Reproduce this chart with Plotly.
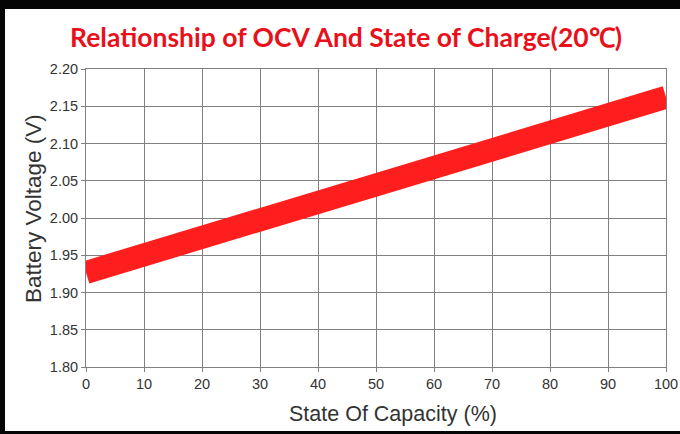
import plotly.graph_objects as go

# data
soc_pct = [0, 100]
ocv_v = [1.927, 2.162]
x_ticks = [0, 10, 20, 30, 40, 50, 60, 70, 80, 90, 100]
y_ticks = [1.80, 1.85, 1.90, 1.95, 2.00, 2.05, 2.10, 2.15, 2.20]

W, H = 680, 434
L, R, T, B = 86, 14, 69, 67
PW, PH = W - L - R, H - T - B

fig = go.Figure()
fig.add_trace(go.Scatter(x=soc_pct, y=ocv_v, mode="lines",
                         line=dict(color="#ff1e1e", width=23), showlegend=False, hoverinfo="skip"))

axis_common = dict(showline=True, linecolor="#808080", linewidth=1, mirror=True,
                   showgrid=True, gridcolor="#808080", gridwidth=1, zeroline=False,
                   ticks="outside", ticklen=4, tickcolor="#808080", automargin=False,
                   tickfont=dict(family="Liberation Sans, Arial", size=14.5, color="#333333"))

fig.update_xaxes(range=[0, 100], tickvals=x_ticks, ticktext=[str(v) for v in x_ticks], **axis_common)
fig.update_yaxes(range=[1.80, 2.20], tickvals=y_ticks, ticktext=[f"{v:.2f}" for v in y_ticks], **axis_common)

def px_x(p):
    return (p - L) / PW

def px_y(p):
    return (H - B - p) / PH

shapes = [
    dict(type="rect", xref="paper", yref="paper", x0=px_x(-5), x1=px_x(W + 5), y0=px_y(9), y1=px_y(-5),
         fillcolor="#050505", line=dict(width=0), layer="above"),
    dict(type="rect", xref="paper", yref="paper", x0=px_x(-5), x1=px_x(5), y0=px_y(H + 5), y1=px_y(-5),
         fillcolor="#050505", line=dict(width=0), layer="above"),
    dict(type="rect", xref="paper", yref="paper", x0=px_x(-5), x1=px_x(W + 5), y0=px_y(H + 5), y1=px_y(431),
         fillcolor="#050505", line=dict(width=0), layer="above"),
]

annotations = [
    dict(text="State Of Capacity (%)", xref="paper", yref="paper", x=px_x(393), y=px_y(414),
         xanchor="center", yanchor="middle", showarrow=False,
         font=dict(family="Liberation Sans, Arial", size=21.5, color="#333333")),
    dict(text="Battery Voltage (V)", xref="paper", yref="paper", x=px_x(33), y=px_y(209),
         xanchor="center", yanchor="middle", showarrow=False, textangle=-90,
         font=dict(family="Liberation Sans, Arial", size=22.5, color="#333333")),
]

fig.update_layout(
    width=W, height=H, autosize=False,
    margin=dict(l=L, r=R, t=T, b=B, pad=0, autoexpand=False),
    paper_bgcolor="white", plot_bgcolor="white",
    title=dict(text="<b>Relationship of OCV And State of Charge(20℃)</b>",
               x=346 / W, xanchor="center", y=1 - 38 / H, yanchor="middle", yref="container",
               font=dict(family="Lato, Open Sans", size=26.5, color="#e8101a")),
    shapes=shapes, annotations=annotations,
)

fig.write_html(
    "out.html",
    config={"displayModeBar": False, "responsive": False, "staticPlot": True},
    post_script=("document.documentElement.style.overflow='hidden';"
                 "document.body.style.overflow='hidden';"
                 "document.body.style.margin='0';"),
)
